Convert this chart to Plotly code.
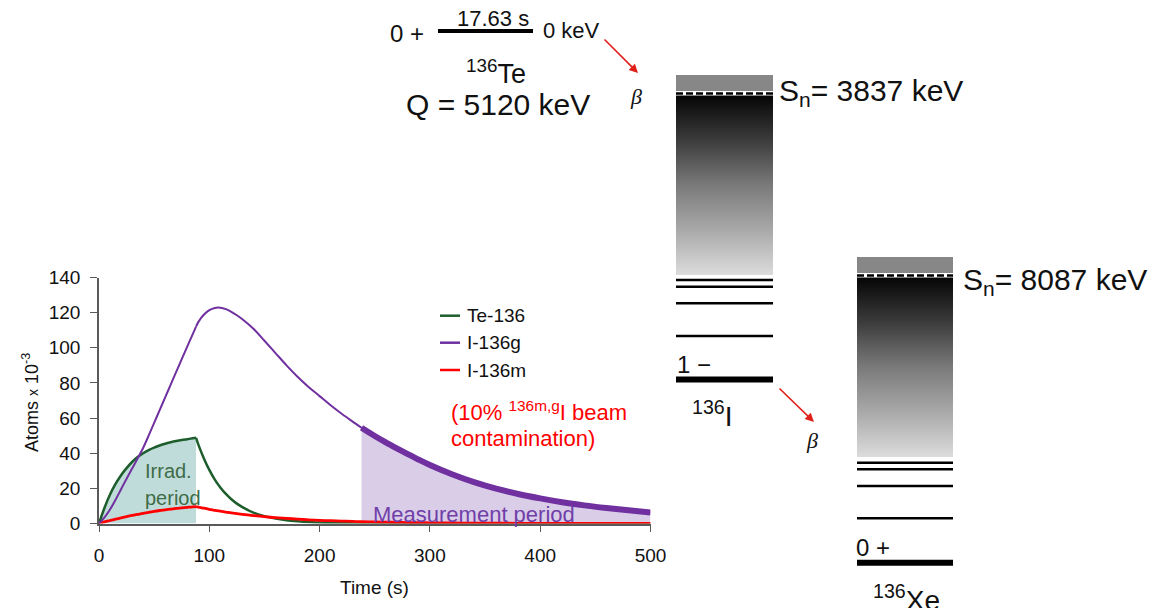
import plotly.graph_objects as go

# ---------------------------------------------------------------- data
time_s = [0, 5, 10, 15, 20, 25, 30, 35, 40, 45, 50, 55, 60, 65, 70, 75, 80, 85, 88,
          90, 95, 100, 105, 110, 115, 120, 125, 130, 140, 150, 160, 170, 180, 190,
          200, 210, 220, 230, 238, 250, 260, 270, 280, 290, 300, 320, 340, 360,
          380, 400, 420, 440, 460, 480, 500]

te136 = [0, 9.0, 16.5, 22.5, 27.5, 31.5, 35.0, 37.8, 40.0, 41.8, 43.2, 44.4, 45.4,
         46.2, 46.9, 47.5, 48.0, 48.5, 48.8,
         45.0, 37.2, 30.5, 25.0, 20.5, 16.8, 13.8, 11.3, 9.3, 6.2, 4.2, 2.8, 1.9,
         1.3, 0.85, 0.6, 0.4, 0.27, 0.18, 0.13, 0.08, 0.05, 0.04, 0.03, 0.02,
         0.01, 0, 0, 0, 0, 0, 0, 0, 0, 0, 0]

i136g = [0, 3.5, 8.0, 13.5, 19.5, 25.5, 31.3, 37.0, 43.0, 50.0, 57.3, 64.5, 71.8,
         79.0, 86.3, 93.5, 100.7, 107.8, 112.0,
         114.6, 118.8, 121.4, 122.7, 122.8, 122.0, 120.5, 118.5, 116.2, 110.8,
         104.0, 97.0, 90.0, 83.5, 77.7, 72.5, 67.3, 62.5, 58.0, 54.5, 49.8, 46.2,
         42.8, 39.5, 36.3, 33.3, 28.0, 23.5, 19.8, 16.8, 14.3, 12.1, 10.3, 8.8,
         7.5, 6.3]

i136m = [0, 0.9, 1.7, 2.5, 3.2, 3.9, 4.6, 5.2, 5.8, 6.3, 6.9, 7.4, 7.8, 8.2, 8.6,
         8.9, 9.2, 9.5, 9.6,
         9.3, 8.7, 8.1, 7.5, 7.0, 6.5, 6.0, 5.6, 5.2, 4.5, 3.9, 3.3, 2.9, 2.5,
         2.1, 1.8, 1.6, 1.4, 1.2, 1.0, 0.9, 0.75, 0.65, 0.55, 0.47, 0.4, 0.3,
         0.22, 0.16, 0.12, 0.09, 0.07, 0.05, 0.04, 0.03, 0.02]

series_names = ["Te-136", "I-136g", "I-136m"]
x_ticks = [0, 100, 200, 300, 400, 500]
y_ticks = [0, 20, 40, 60, 80, 100, 120, 140]

IRR_END = 88        # end of irradiation (s)
MEAS_START = 238    # start of measurement (s)

# ---------------------------------------------------------------- style
W, H = 1173, 608
FONT = "Liberation Sans, Arial, sans-serif"
C_TE, C_IG, C_IM = "#1D5E2C", "#7030A0", "#FF0000"
C_IRR_FILL, C_MEAS_FILL = "#C0DCDA", "#DACDE8"


def window(t, y, lo, hi):
    pts = [(a, b) for a, b in zip(t, y) if lo <= a <= hi]
    return [p[0] for p in pts], [p[1] for p in pts]


fig = go.Figure()

# shaded periods
tx, ty = window(time_s, te136, 0, IRR_END)
fig.add_trace(go.Scatter(x=tx, y=ty, mode="lines", line=dict(width=0, shape="spline"),
                         fill="tozeroy", fillcolor=C_IRR_FILL, showlegend=False,
                         hoverinfo="skip"))
tx, ty = window(time_s, i136g, MEAS_START, 500)
fig.add_trace(go.Scatter(x=tx, y=ty, mode="lines", line=dict(width=0, shape="spline"),
                         fill="tozeroy", fillcolor=C_MEAS_FILL, showlegend=False,
                         hoverinfo="skip"))

# curves, drawn in two pieces so the break at the end of irradiation stays sharp
for name, vals, col, wid in [(series_names[0], te136, C_TE, 2.5),
                             (series_names[2], i136m, C_IM, 2.8),
                             (series_names[1], i136g, C_IG, 2.0)]:
    for lo, hi in [(0, IRR_END), (IRR_END, 500)]:
        tx, ty = window(time_s, vals, lo, hi)
        fig.add_trace(go.Scatter(x=tx, y=ty, mode="lines", name=name,
                                 line=dict(color=col, width=wid, shape="spline"),
                                 showlegend=False))

# measured part of I-136g drawn heavier
tx, ty = window(time_s, i136g, MEAS_START, 500)
fig.add_trace(go.Scatter(x=tx, y=ty, mode="lines", line=dict(color=C_IG, width=6, shape="spline"),
                         showlegend=False))

# ---------------------------------------------------------------- level schemes
# overlay axes measured in page pixels (y downward)
grey_scale = [[0, "#050505"], [0.25, "#3c3c3c"], [0.5, "#7a7a7a"],
              [0.75, "#a9a9a9"], [1, "#dcdcdc"]]


def gradient_box(x0, x1, y0, y1):
    fig.add_trace(go.Scatter(
        x=[x0, x1, x1, x0, x0], y=[y0, y0, y1, y1, y0], xaxis="x2", yaxis="y2",
        mode="lines", line=dict(width=0), fill="toself",
        fillgradient=dict(type="vertical", colorscale=grey_scale, start=y0, stop=y1),
        showlegend=False, hoverinfo="skip"))


shapes = []
annotations = []


def hline(x0, x1, y, w, dash="solid", color="#000000"):
    shapes.append(dict(type="line", xref="x2", yref="y2", x0=x0, x1=x1, y0=y, y1=y,
                       line=dict(color=color, width=w, dash=dash), layer="above"))


def text(x, y, s, size, color="#111111", xanchor="center", family=FONT, angle=0):
    annotations.append(dict(x=x, y=y, xref="x2", yref="y2", text=s, showarrow=False,
                            xanchor=xanchor, yanchor="middle", textangle=angle,
                            font=dict(family=family, size=size, color=color)))


def arrow(x0, y0, x1, y1):
    annotations.append(dict(x=x1, y=y1, ax=x0, ay=y0, xref="x2", yref="y2",
                            axref="x2", ayref="y2", text="", showarrow=True,
                            arrowhead=2, arrowsize=1.1, arrowwidth=1.6,
                            arrowcolor="#E0201B"))


def level_scheme(x0, x1, y_top, y_sn, y_grad_end, levels, y_ground):
    shapes.append(dict(type="rect", xref="x2", yref="y2", x0=x0, x1=x1,
                       y0=y_top, y1=y_sn - 2.5, fillcolor="#878787",
                       line=dict(width=0), layer="below"))
    gradient_box(x0, x1, y_sn + 2, y_grad_end)
    hline(x0, x1, y_sn, 2.5, dash="7px,3px")
    for y in levels:
        hline(x0, x1, y, 2.5)
    hline(x0, x1, y_ground, 6)


# 136Te parent
text(407, 33, "0 +", 24)
hline(438, 533, 31, 4)
text(493, 18, "17.63 s", 22)
text(571, 30, "0 keV", 22)
text(496, 72, "<sup>136</sup>Te", 27)
text(498, 104, "Q = 5120 keV", 30)
arrow(603, 38, 638, 73)
text(636, 96, "<i>β</i>", 22, family="Liberation Serif, serif")

# 136I
level_scheme(676, 773, 75, 93.5, 275, [280, 286.7, 303.3, 336], 379.5)
text(777, 92, "S<sub>n</sub>= 3837 keV", 30, xanchor="left")
text(694, 364, "1 −", 24)
text(712, 414, "<sup>136</sup>I", 28)
arrow(778, 387, 814, 422)
text(812, 440, "<i>β</i>", 22, family="Liberation Serif, serif")

# 136Xe
level_scheme(857, 953, 257, 275.5, 457, [462.7, 469.3, 486, 518.3], 562.7)
text(961, 281, "S<sub>n</sub>= 8087 keV", 30, xanchor="left")
text(873, 547, "0 +", 24)
text(906, 598, "<sup>136</sup>Xe", 28)

# ---------------------------------------------------------------- chart labels
text(30, 403, "Atoms <span style='font-size:14px'>x</span> 10<sup>-3</sup>", 18, angle=-90)
text(374, 587, "Time (s)", 19)

legend_rows = [(series_names[0], C_TE, 315.7), (series_names[1], C_IG, 342.7),
               (series_names[2], C_IM, 370)]
for name, col, y in legend_rows:
    hline(440, 460, y, 2.5, color=col)
    text(465, y, name, 19, xanchor="left")

text(143, 471, "Irrad.", 20, color="#3E6C47", xanchor="left")
text(143, 498, "period", 20, color="#3E6C47", xanchor="left")
text(371, 514, "Measurement period", 22, color="#7040A8", xanchor="left")
text(449, 411, "(10% <sup>136m,g</sup>I beam", 22, color="#FF0000", xanchor="left")
text(449, 438, "contamination)", 22, color="#FF0000", xanchor="left")

# ---------------------------------------------------------------- layout
axis_col = "#5a5a5a"
fig.update_layout(
    width=W, height=H, margin=dict(l=0, r=0, t=0, b=0, autoexpand=False),
    paper_bgcolor="white", plot_bgcolor="rgba(0,0,0,0)",
    showlegend=False, font=dict(family=FONT, size=18, color="#111111"),
    xaxis=dict(domain=[99 / W, 650.5 / W], range=[0, 500], tickvals=x_ticks,
               ticks="outside", ticklen=7, tickwidth=1.3, tickcolor=axis_col,
               showline=True, linecolor=axis_col, linewidth=1.5, showgrid=False,
               zeroline=False, tickfont=dict(size=19, color="#111111"),
               ticklabelstandoff=7, anchor="y"),
    yaxis=dict(domain=[(H - 523.5) / H, (H - 277.5) / H], range=[0, 140],
               tickvals=y_ticks, ticks="outside", ticklen=7, tickwidth=1.3,
               tickcolor=axis_col, showline=True, linecolor=axis_col, linewidth=1.5,
               showgrid=False, zeroline=False, tickfont=dict(size=19, color="#111111"),
               ticklabelstandoff=6, anchor="x"),
    xaxis2=dict(domain=[0, 1], range=[0, W], visible=False, anchor="y2",
                fixedrange=True),
    yaxis2=dict(domain=[0, 1], range=[H, 0], visible=False, anchor="x2",
                fixedrange=True),
    shapes=shapes, annotations=annotations,
)

fig.write_html(
    "out.html",
    config={"displayModeBar": False},
    post_script="document.body.style.margin='0px';"
                "document.documentElement.style.overflow='hidden';",
)
